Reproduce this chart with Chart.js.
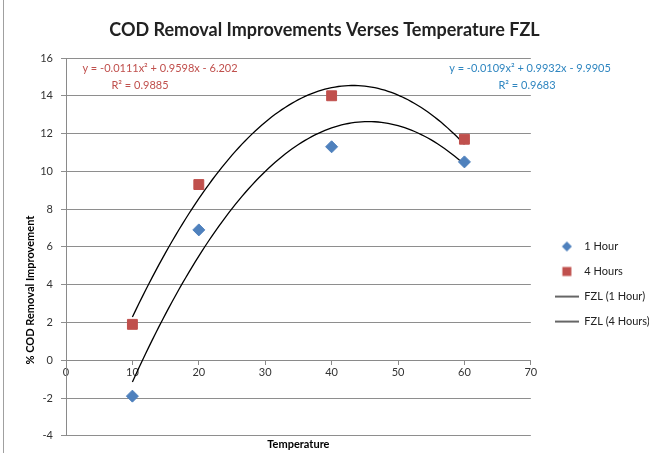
<!DOCTYPE html>
<html>
<head>
<meta charset="utf-8">
<script src="https://cdn.jsdelivr.net/npm/chart.js@4/dist/chart.umd.min.js"></script>
<style>
  body { margin: 0; background: #fff; }
  canvas { display: block; }
</style>
</head>
<body>
<canvas id="codChart" width="661" height="453"></canvas>
<script>
// Data
const temperatures = [10, 20, 40, 60];
const oneHour = [-1.9, 6.9, 11.3, 10.5];
const fourHours = [1.9, 9.3, 14.0, 11.7];

// Polynomial trendline coefficients [a, b, c] as printed on the chart
const fit1Hour = [-0.0109, 0.9932, -9.9905];
const fit4Hours = [-0.0111, 0.9598, -6.202];
const fitRange = [10, 60];

const seriesLabels = ['1 Hour', '4 Hours', 'FZL (1 Hour)', 'FZL (4 Hours)'];
const eqLabels = [
  ['y = -0.0111x² + 0.9598x - 6.202', 'R² = 0.9885'],
  ['y = -0.0109x² + 0.9932x - 9.9905', 'R² = 0.9683']
];

const BLUE = '#4f81bd';
const RED = '#c0504d';
const FONT = 'Lato, "Open Sans", sans-serif';

function points(xs, ys) {
  return xs.map((x, i) => ({ x: x, y: ys[i] }));
}

// sample the printed trendline equation across the data range
function trend(c) {
  const pts = [];
  for (let x = fitRange[0]; x <= fitRange[1]; x += 0.5) {
    pts.push({ x: x, y: c[0] * x * x + c[1] * x + c[2] });
  }
  return pts;
}

// small canvases used as legend markers
function icon(kind, color) {
  const c = document.createElement('canvas');
  c.width = 24; c.height = 12;
  const g = c.getContext('2d');
  g.fillStyle = color;
  if (kind === 'diamond') {
    g.beginPath();
    g.moveTo(12, 1); g.lineTo(17, 6); g.lineTo(12, 11); g.lineTo(7, 6);
    g.closePath(); g.fill();
  } else if (kind === 'square') {
    g.fillRect(7.5, 1.5, 9, 9);
  } else {
    g.fillRect(0, 5.5, 24, 1.2);
  }
  return c;
}
const legendIcons = [icon('diamond', BLUE), icon('square', RED), icon('line', '#000'), icon('line', '#000')];

const extras = {
  id: 'extras',
  afterDraw(chart) {
    const ctx = chart.ctx;
    ctx.save();
    // outer frame line on the left
    ctx.strokeStyle = '#a0a0a0';
    ctx.lineWidth = 1;
    ctx.beginPath(); ctx.moveTo(3.5, 0); ctx.lineTo(3.5, 453); ctx.stroke();

    // trendline equations
    ctx.font = '11px ' + FONT;
    ctx.textAlign = 'center';
    ctx.textBaseline = 'middle';
    ctx.fillStyle = RED;
    ctx.fillText(eqLabels[0][0], 160, 68);
    ctx.fillText(eqLabels[0][1], 140, 85);
    ctx.fillStyle = '#2f86c0';
    ctx.fillText(eqLabels[1][0], 530, 68);
    ctx.fillText(eqLabels[1][1], 527, 85);

    // y axis title
    ctx.fillStyle = '#000';
    ctx.font = 'bold 11px ' + FONT;
    ctx.translate(30, 290);
    ctx.rotate(-Math.PI / 2);
    ctx.fillText('% COD Removal Improvement', 0, 0);
    ctx.restore();
  }
};

new Chart(document.getElementById('codChart'), {
  type: 'scatter',
  data: {
    datasets: [
      {
        label: seriesLabels[0],
        data: points(temperatures, oneHour),
        pointStyle: 'rectRot',
        pointRadius: 6,
        backgroundColor: BLUE,
        borderColor: BLUE
      },
      {
        label: seriesLabels[1],
        data: points(temperatures, fourHours),
        pointStyle: 'rect',
        pointRadius: 7,
        backgroundColor: RED,
        borderColor: RED
      },
      {
        label: seriesLabels[2],
        data: trend(fit1Hour),
        showLine: true,
        pointRadius: 0,
        borderColor: '#000',
        borderWidth: 1.3
      },
      {
        label: seriesLabels[3],
        data: trend(fit4Hours),
        showLine: true,
        pointRadius: 0,
        borderColor: '#000',
        borderWidth: 1.3
      }
    ]
  },
  options: {
    responsive: false,
    animation: false,
    layout: { padding: { left: 0, right: 12, top: 0, bottom: 0 } },
    scales: {
      x: {
        type: 'linear',
        position: { y: 0 },
        min: 0,
        max: 70,
        ticks: { stepSize: 10, padding: 2, color: '#333', font: { family: FONT, size: 11 } },
        grid: { drawOnChartArea: false, drawTicks: true, tickLength: 4, color: '#8a8a8a' },
        border: { color: '#8a8a8a' }
      },
      y: {
        min: -4,
        max: 16,
        ticks: { stepSize: 2, padding: 8, color: '#333', font: { family: FONT, size: 11 } },
        grid: { color: '#8e8e8e', tickLength: 5 },
        border: { color: '#8a8a8a' },
        afterFit: s => { s.width = 66; }
      },
      spacer: {
        position: 'right',
        display: true,
        ticks: { display: false },
        grid: { display: false },
        border: { display: false },
        afterFit: s => { s.width = 10; }
      }
    },
    plugins: {
      title: {
        display: true,
        text: 'COD Removal Improvements Verses Temperature FZL',
        color: '#222',
        font: { family: FONT, size: 18, weight: 'bold' },
        padding: { top: 19, bottom: 17.4 }
      },
      subtitle: {
        display: true,
        position: 'bottom',
        fullSize: false,
        text: 'Temperature',
        color: '#000',
        font: { family: FONT, size: 11, weight: 'bold' },
        padding: { top: 2, bottom: 2 }
      },
      legend: {
        position: 'right',
        title: { display: true, text: ' ', font: { size: 10 }, padding: { top: 0, bottom: 103 } },
        labels: {
          usePointStyle: true,
          pointStyleWidth: 24,
          padding: 14,
          color: '#222',
          font: { family: FONT, size: 11 },
          generateLabels: chart => chart.data.datasets.map((ds, i) => ({
            text: ds.label,
            pointStyle: legendIcons[i],
            datasetIndex: i,
            hidden: false,
            lineWidth: 0,
            fillStyle: 'transparent',
            strokeStyle: 'transparent',
            fontColor: '#222'
          }))
        }
      },
      tooltip: { enabled: false }
    }
  },
  plugins: [extras]
});
</script>
</body>
</html>
